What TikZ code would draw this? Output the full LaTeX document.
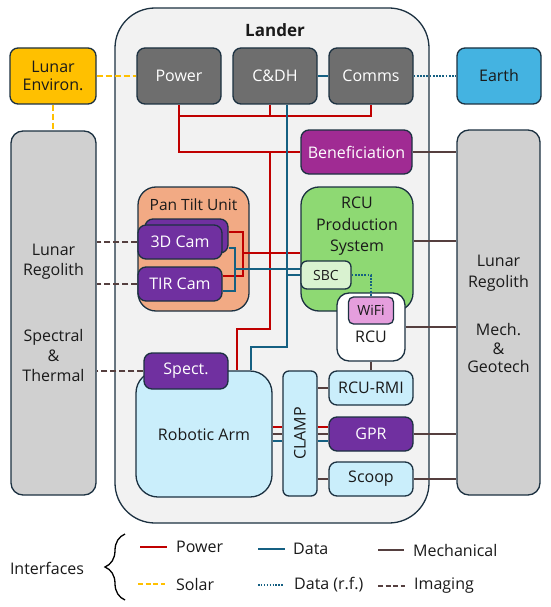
\documentclass[tikz,border=0pt]{standalone}
\usepackage{fontspec}
\setmainfont{Open Sans}
\usetikzlibrary{decorations.pathreplacing,calc}
\definecolor{edge}{HTML}{1C3141}
\definecolor{landerfill}{HTML}{F2F2F2}
\definecolor{gbox}{HTML}{6E6E6E}
\definecolor{regol}{HTML}{D0D0D0}
\definecolor{envc}{HTML}{FFC000}
\definecolor{earthc}{HTML}{44B3E1}
\definecolor{benefc}{HTML}{A02B93}
\definecolor{camc}{HTML}{7030A0}
\definecolor{ptuc}{HTML}{F2AA84}
\definecolor{greenc}{HTML}{8ED973}
\definecolor{sbcc}{HTML}{D9F2D0}
\definecolor{wific}{HTML}{E59EDD}
\definecolor{lblue}{HTML}{CAEEFB}
\definecolor{powerc}{HTML}{C00000}
\definecolor{datac}{HTML}{156082}
\definecolor{mechc}{HTML}{553F3F}
\definecolor{txt}{HTML}{1A1A1A}
\newcommand\fsmain{\fontsize{16}{20}\selectfont}
\newcommand\fssmall{\fontsize{14}{16}\selectfont}
\begin{document}
\begin{tikzpicture}[x=1pt,y=-1pt,
  box/.style={draw=edge, line width=1.3pt, rounded corners=8pt, inner sep=0pt, font=\fsmain, align=center, text=txt},
  lbl/.style={font=\fsmain, align=center, text=txt, inner sep=0pt},
  pw/.style={draw=powerc, line width=1.9pt},
  dt/.style={draw=datac, line width=1.9pt},
  mc/.style={draw=mechc, line width=1.9pt},
  so/.style={draw=envc, line width=1.9pt, dash pattern=on 6pt off 3pt},
  rf/.style={draw=datac, line width=1.9pt, dash pattern=on 1.8pt off 1.4pt},
  im/.style={draw=mechc, line width=1.9pt, dash pattern=on 6pt off 3pt},
]
\useasboundingbox (0,0) rectangle (550,607);
\fill[white] (0,0) rectangle (550,607);

% Lander
\node[box, fill=landerfill, rounded corners=40pt, minimum width=314pt, minimum height=515pt] (Lander) at (272,265.5) {};
\node[lbl, font=\fontsize{17}{20}\selectfont\bfseries] (LanderT) at (275,30) {Lander};

% top row
\node[box, fill=envc, minimum width=86pt, minimum height=56pt] (Env) at (53,76) {Lunar\\[-2pt]Environ.};
\node[box, fill=gbox, text=white, minimum width=84pt, minimum height=56pt] (Power) at (179,76) {Power};
\node[box, fill=gbox, text=white, minimum width=84pt, minimum height=56pt] (CDH) at (275,76) {C\&DH};
\node[box, fill=gbox, text=white, minimum width=84pt, minimum height=56pt] (Comms) at (371,76) {Comms};
\node[box, fill=earthc, minimum width=84pt, minimum height=56pt] (Earth) at (499,76) {Earth};

% regolith boxes
\node[box, fill=regol, rounded corners=12pt, minimum width=85pt, minimum height=364pt] (RegL) at (53.5,313) {};
\node[lbl] (RegLa) at (53.5,262) {Lunar\\Regolith};
\node[lbl] (RegLb) at (53.5,355.5) {Spectral\\\&\\Thermal};
\node[box, fill=regol, rounded corners=12pt, minimum width=83pt, minimum height=365pt] (RegR) at (498.5,312.5) {};
\node[lbl, font=\fontsize{16}{21}\selectfont] (RegRa) at (498.5,273.5) {Lunar\\Regolith};
\node[lbl, font=\fontsize{16}{18.5}\selectfont] (RegRb) at (498.5,348) {Mech.\\\&\\Geotech};

% Beneficiation
\node[box, fill=benefc, text=white, minimum width=111pt, minimum height=44pt] (Benef) at (356.5,152) {Beneficiation};

% Pan tilt unit
\node[box, fill=ptuc, rounded corners=18pt, minimum width=111pt, minimum height=124pt] (PTU) at (193.5,249) {};
\node[lbl, font=\fontsize{15.5}{18}\selectfont] (PTUt) at (193.5,205) {Pan Tilt Unit};
\node[box, fill=camc, minimum width=83pt, minimum height=34pt] (Cam3b) at (186.5,236) {};
\node[box, fill=camc, text=white, minimum width=84pt, minimum height=34pt] (Cam3) at (180,242) {3D Cam};
\node[box, fill=camc, text=white, minimum width=84pt, minimum height=34pt] (TIR) at (180,284) {TIR Cam};

% RCU production system
\node[box, fill=greenc, rounded corners=18pt, minimum width=112pt, minimum height=124pt] (RCUPS) at (357,249) {};
\node[lbl, font=\fontsize{16}{21.5}\selectfont] (RCUPSt) at (357,226.5) {RCU\\Production\\System};
\node[box, fill=sbcc, rounded corners=6pt, font=\fssmall, minimum width=50pt, minimum height=28pt] (SBC) at (326,275) {SBC};
\node[box, fill=white, rounded corners=12pt, minimum width=68pt, minimum height=68pt] (RCU) at (371,327) {};
\node[lbl] (RCUt) at (371,337) {RCU};
\node[box, fill=wific, rounded corners=5pt, font=\fssmall, minimum width=45pt, minimum height=27pt] (WiFi) at (371,310.5) {WiFi};

% Robotic arm etc.
\node[box, fill=lblue, rounded corners=22pt, minimum width=136pt, minimum height=126pt] (Arm) at (204,434) {Robotic Arm};
\node[box, fill=camc, text=white, minimum width=84pt, minimum height=36pt] (Spect) at (186,371) {Spect.};
\node[box, fill=lblue, rounded corners=6pt, minimum width=34pt, minimum height=125pt] (CLAMP) at (300,433.5) {};
\node[lbl, rotate=90] (CLAMPt) at (300,433.5) {CLAMP};
\node[box, fill=lblue, minimum width=84pt, minimum height=34pt] (RMI) at (371,388) {RCU-RMI};
\node[box, fill=camc, text=white, minimum width=84pt, minimum height=34pt] (GPR) at (371,434) {GPR};
\node[box, fill=lblue, minimum width=84pt, minimum height=34pt] (Scoop) at (371,479) {Scoop};

% ---- power wires
\coordinate (jP1) at (179,116);
\coordinate (jP2) at (270,152);
\draw[pw] (Power.south) |- (Benef.west);
\draw[pw] (jP1) -| (Comms.south);
\draw[pw] (CDH.south -| 270,0) -- (jP1 -| 270,0);
\draw[pw] (jP2) |- (237,329) -- (Arm.north -| 237,0);
\draw[pw] (Cam3b.east |- 0,232) -| (243,276) -- (TIR.east |- 0,276);
\draw[pw] (243,253) -- (RCUPS.west |- 0,253);

% ---- data wires
\draw[dt] (CDH.east) -- (Comms.west);
\draw[dt] (CDH.south -| 287,0) |- (251,347) -- (Arm.north -| 251,0);
\draw[dt] (SBC.west -| 287,0) -- (SBC.west);
\draw[dt] (Cam3b.east |- 0,248) -| (235,291) -- (TIR.east |- 0,291);
\draw[dt] (235,269) -- (SBC.west |- 0,269);

% ---- rf data
\draw[rf] (Comms.east) -- (Earth.west);
\draw[rf] (SBC.east) -| (WiFi.north);

% ---- solar
\draw[so] (Env.east) -- (Power.west);
\draw[so] (Env.south) -- (Env.south |- RegL.north);

% ---- imaging
\draw[im] (Cam3.west) -- (Cam3.west -| RegL.east);
\draw[im] (TIR.west) -- (TIR.west -| RegL.east);
\draw[im] (Spect.west) -- (Spect.west -| RegL.east);

% ---- mechanical
\draw[mc] (Benef.east) -- (Benef.east -| RegR.west);
\draw[mc] (RCUPS.east |- 0,241) -- (RegR.west |- 0,241);
\draw[mc] (RCU.east) -- (RCU.east -| RegR.west);
\draw[mc] (RCU.south) -- (RMI.north);
\draw[mc] (RMI.west) -- (RMI.west -| CLAMP.east);
\draw[mc] (Scoop.west) -- (Scoop.west -| CLAMP.east);
\draw[mc] (GPR.east) -- (GPR.east -| RegR.west);
\draw[mc] (Scoop.east) -- (Scoop.east -| RegR.west);
\foreach \yy/\st in {427/pw,434/mc,441/dt}{
  \draw[\st] (Arm.east |- 0,\yy) -- (CLAMP.west |- 0,\yy);
  \draw[\st] (CLAMP.east |- 0,\yy) -- (GPR.west |- 0,\yy);
}

% ---- legend
\node[lbl] (Intf) at (47,568) {Interfaces};
\coordinate (brB) at (125,600);
\coordinate (brT) at (125,534);
\draw[line width=1.3pt, decorate, decoration={brace, amplitude=20pt}] (brB) -- (brT);
\coordinate (l1a) at (140,547); \coordinate (l1b) at (167,547);
\coordinate (l2a) at (258,549); \coordinate (l2b) at (285,549);
\coordinate (l3a) at (378,550); \coordinate (l3b) at (404,550);
\coordinate (l4a) at (138,584); \coordinate (l4b) at (165,584);
\coordinate (l5a) at (258,585); \coordinate (l5b) at (283,585);
\coordinate (l6a) at (378,586); \coordinate (l6b) at (405,586);
\draw[pw] (l1a) -- (l1b);
\draw[dt] (l2a) -- (l2b);
\draw[mc] (l3a) -- (l3b);
\draw[so, dash pattern=on 5pt off 2.5pt] (l4a) -- (l4b);
\draw[rf, line width=1.5pt, dash pattern=on 1.5pt off 1.4pt] (l5a) -- (l5b);
\draw[im, dash pattern=on 5pt off 2.5pt] (l6a) -- (l6b);
\node[lbl, anchor=west] (t1) at (176,547) {Power};
\node[lbl, anchor=west] (t2) at (293,549) {Data};
\node[lbl, anchor=west] (t3) at (413,550) {Mechanical};
\node[lbl, anchor=west] (t4) at (176,584) {Solar};
\node[lbl, anchor=west] (t5) at (294,585) {Data (r.f.)};
\node[lbl, anchor=west] (t6) at (414,586) {Imaging};
\end{tikzpicture}
\end{document}
